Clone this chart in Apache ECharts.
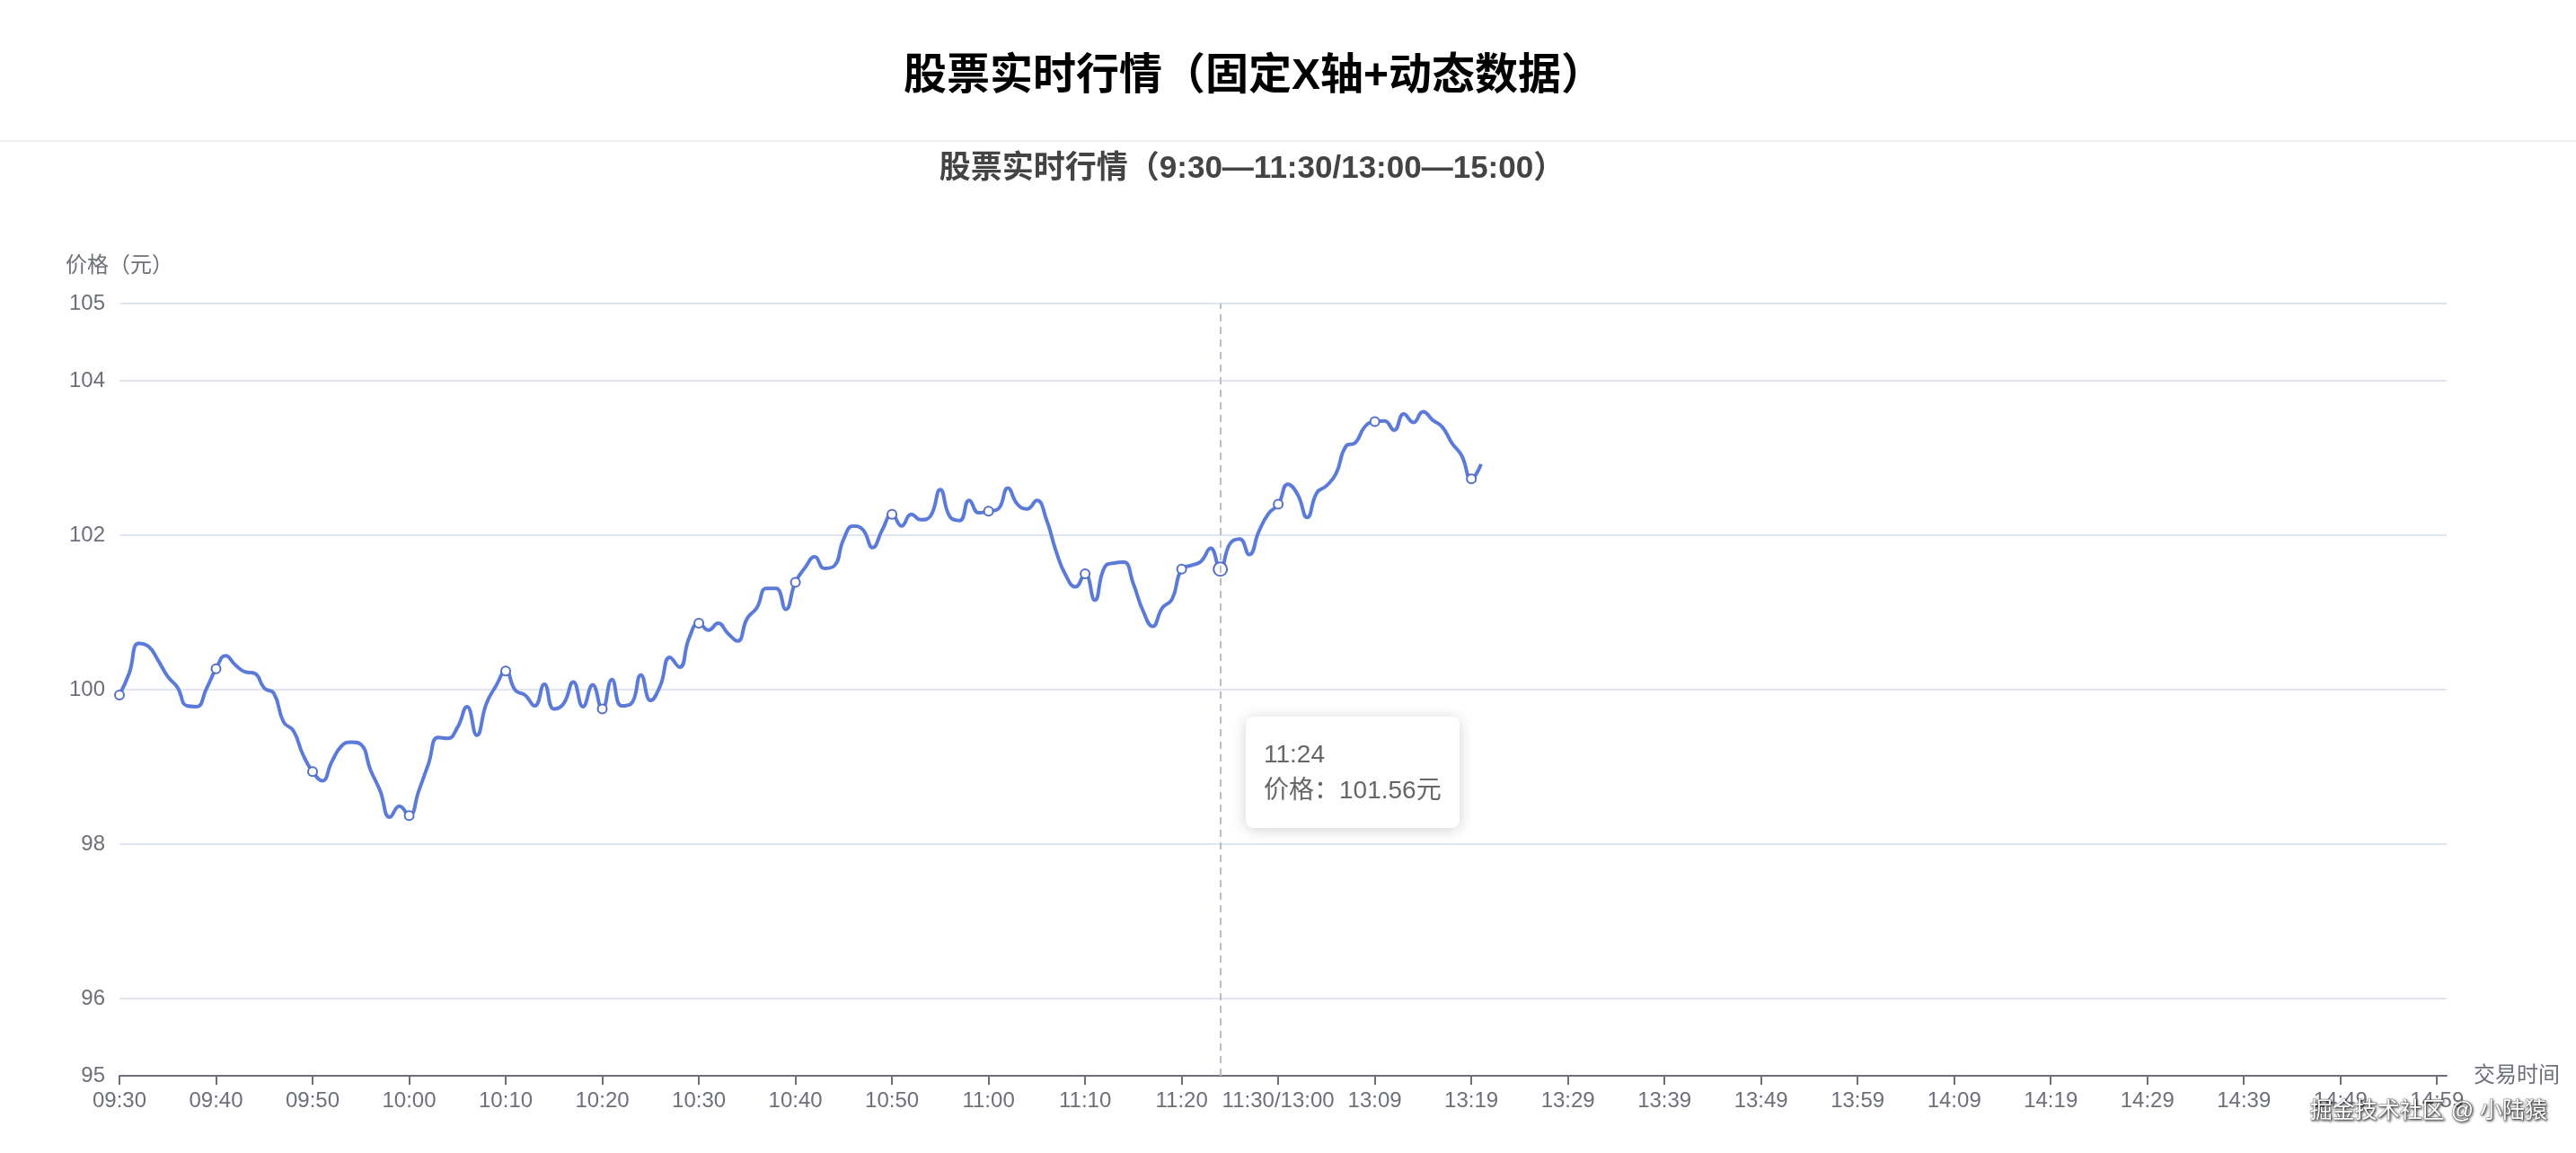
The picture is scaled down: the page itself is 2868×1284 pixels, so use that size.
<!DOCTYPE html>
<html>
<head>
<meta charset="utf-8">
<script src="https://cdn.jsdelivr.net/npm/echarts@6/dist/echarts.min.js"></script>
<style>
html,body{margin:0;padding:0;background:#fff;}
#chart{width:2868px;height:1284px;}
</style>
</head>
<body>
<div id="chart"></div>
<script>
// ---- data ----
const morningSession = ['09:30', '11:30'];
const afternoonSession = ['13:00', '15:00'];
const breakLabelFrom = '11:30';
const breakLabelTo = '11:30/13:00';
const prices = [
  99.93, 100.21, 100.60, 100.56, 100.38, 100.17, 100.03, 99.79, 99.78, 100.01,
  100.27, 100.44, 100.32, 100.23, 100.21, 100.02, 99.95, 99.58, 99.47, 99.16,
  98.94, 98.82, 99.07, 99.27, 99.32, 99.29, 98.96, 98.69, 98.35, 98.49,
  98.37, 98.69, 99.04, 99.38, 99.37, 99.51, 99.78, 99.41, 99.82, 100.05,
  100.24, 99.99, 99.93, 99.79, 100.07, 99.75, 99.82, 100.10, 99.78, 100.06,
  99.75, 100.13, 99.79, 99.82, 100.19, 99.86, 100.05, 100.42, 100.29, 100.67,
  100.86, 100.77, 100.86, 100.73, 100.63, 100.92, 101.06, 101.31, 101.31, 101.04,
  101.39, 101.58, 101.72, 101.57, 101.60, 101.95, 102.12, 102.07, 101.84, 102.07,
  102.27, 102.12, 102.27, 102.20, 102.25, 102.59, 102.24, 102.19, 102.45, 102.29,
  102.31, 102.34, 102.61, 102.40, 102.34, 102.45, 102.20, 101.79, 101.48, 101.33,
  101.50, 101.16, 101.58, 101.64, 101.65, 101.37, 101.02, 100.82, 101.06, 101.17,
  101.56, 101.61, 101.66, 101.83, 101.56, 101.89, 101.95, 101.75, 102.05, 102.28,
  102.40, 102.66, 102.53, 102.23, 102.55, 102.64, 102.80, 103.15, 103.20, 103.41,
  103.47, 103.48, 103.36, 103.57, 103.46, 103.60, 103.49, 103.40, 103.19, 103.03,
  102.73, 102.92
];
const yMin = 95, yMax = 105;
const hoverIndex = 114;

function minutesRange(a, b) {
  const toMin = s => parseInt(s.slice(0, 2)) * 60 + parseInt(s.slice(3));
  const out = [];
  for (let m = toMin(a); m <= toMin(b); m++) {
    out.push(String(Math.floor(m / 60)).padStart(2, '0') + ':' + String(m % 60).padStart(2, '0'));
  }
  return out;
}
const categories = minutesRange(morningSession[0], morningSession[1])
  .concat(minutesRange(afternoonSession[0], afternoonSession[1]));

const FONT = "'Liberation Sans', 'Noto Sans CJK SC', sans-serif";
const AXIS_COLOR = '#6E7079';

const chart = echarts.init(document.getElementById('chart'));
chart.setOption({
  animation: false,
  backgroundColor: '#fff',
  textStyle: { fontFamily: FONT },
  graphic: [
    { type: 'text', x: 1396, y: 86, style: { text: '股票实时行情（固定X轴+动态数据）', font: "bold 48px " + FONT, fill: '#000', align: 'center', verticalAlign: 'middle' } },
    { type: 'rect', shape: { x: 0, y: 156, width: 2868, height: 2 }, style: { fill: '#efefef' } },
    { type: 'text', x: 1394, y: 188, style: { text: '股票实时行情（9:30—11:30/13:00—15:00）', font: "bold 35px " + FONT, fill: '#444', align: 'center', verticalAlign: 'middle' } },
    { type: 'text', x: 2836, y: 1238, z: 100, style: { text: '掘金技术社区 @ 小陆猿', font: "25px " + FONT, fill: '#fff', stroke: 'rgba(90,90,90,0.55)', lineWidth: 1, align: 'right', verticalAlign: 'middle', textShadowColor: 'rgba(0,0,0,0.85)', textShadowBlur: 3, textShadowOffsetX: 1, textShadowOffsetY: 1 } }
  ],
  grid: { left: 133, right: 144, top: 338, bottom: 86, outerBoundsMode: 'none', containLabel: false },
  tooltip: {
    trigger: 'axis',
    transitionDuration: 0,
    backgroundColor: '#fff',
    borderWidth: 0,
    borderRadius: 8,
    padding: [22, 20],
    extraCssText: 'box-shadow: 0 2px 16px rgba(0,0,0,0.18);',
    textStyle: { fontSize: 28, color: '#666', fontFamily: FONT },
    axisPointer: { type: 'line', lineStyle: { color: '#B9BEC9', width: 2, type: [8, 6] } },
    formatter: function (params) {
      const p = params[0];
      return '<div style="line-height:40px;font-size:28px;color:#666;font-family:' + FONT.replace(/'/g, '&quot;') + '">' +
        p.name + '<br/>价格：' + Number(p.value).toFixed(2) + '元</div>';
    },
    position: function (point) { return [point[0] + 28, 798]; }
  },
  xAxis: {
    type: 'category',
    data: categories,
    boundaryGap: false,
    name: '交易时间',
    nameLocation: 'end',
    nameGap: 30,
    nameTextStyle: { fontSize: 24, color: AXIS_COLOR, fontFamily: FONT },
    axisLine: { show: true, lineStyle: { color: AXIS_COLOR, width: 2 } },
    axisTick: { show: true, interval: 9, length: 10, lineStyle: { color: AXIS_COLOR, width: 2 } },
    axisLabel: {
      interval: 9,
      margin: 16,
      fontSize: 24,
      color: AXIS_COLOR,
      fontFamily: FONT,
      formatter: v => (v === breakLabelFrom ? breakLabelTo : v)
    },
    splitLine: { show: false }
  },
  yAxis: {
    type: 'value',
    min: yMin,
    max: yMax,
    name: '价格（元）',
    nameLocation: 'end',
    nameGap: 30,
    nameTextStyle: { fontSize: 24, color: AXIS_COLOR, fontFamily: FONT, align: 'center' },
    axisLine: { show: false },
    axisTick: { show: false },
    axisLabel: { margin: 16, fontSize: 24, color: AXIS_COLOR, fontFamily: FONT },
    splitLine: { show: true, lineStyle: { color: '#E0E6F1', width: 2 } }
  },
  series: [{
    name: '价格',
    type: 'line',
    data: prices,
    smooth: true,
    symbol: 'emptyCircle',
    symbolSize: 10,
    showAllSymbol: 'auto',
    lineStyle: { color: '#5470c6', width: 4 },
    itemStyle: { color: '#5470c6', borderWidth: 3.5 },
    emphasis: { scale: 1.5 }
  }]
});
chart.dispatchAction({ type: 'showTip', seriesIndex: 0, dataIndex: hoverIndex });
</script>
</body>
</html>
